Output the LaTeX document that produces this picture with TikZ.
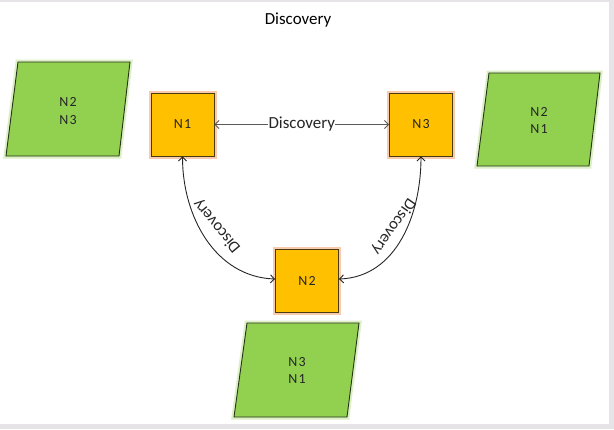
\documentclass[tikz,border=0pt]{standalone}
\usepackage{fontspec}
\setmainfont{Carlito}
\usetikzlibrary{arrows.meta}
\definecolor{boxorange}{HTML}{FFC000}
\definecolor{boxedge}{HTML}{4A3A10}
\definecolor{glowor}{HTML}{F9CBAE}
\definecolor{leafgreen}{HTML}{92D050}
\definecolor{greenedge}{HTML}{26331A}
\definecolor{glowgr}{HTML}{DDEFC4}
\definecolor{framegray}{HTML}{E6E4E6}
\definecolor{txt}{HTML}{262626}
\definecolor{linegray}{HTML}{595959}
\tikzset{
  nodebox/.style={draw=boxedge, fill=boxorange, line width=0.9bp,
    minimum width=63bp, minimum height=63bp, inner sep=0pt,
    font=\fontsize{14}{17}\selectfont\addfontfeature{LetterSpace=8}, text=txt,
    preaction={draw=glowor, line width=5bp}},
  tablebox/.style={draw=greenedge, fill=leafgreen, line width=0.9bp,
    preaction={draw=glowgr, line width=5bp}},
  tabletext/.style={align=center, inner sep=0pt,
    font=\fontsize{14}{17.5}\selectfont\addfontfeature{LetterSpace=8}, text=txt},
  link/.style={draw=linegray, line width=0.9bp,
    {Straight Barb[length=4bp,width=8bp]}-{Straight Barb[length=4bp,width=8bp]}},
  curvelink/.style={link, draw=black!85},
  midlabel/.style={fill=white, inner sep=0.3bp, font=\fontsize{17}{19}\selectfont, text=txt},
  curvelabel/.style={inner sep=0pt, font=\fontsize{16.5}{19}\selectfont, text=txt},
  titletext/.style={inner sep=0pt, font=\fontsize{17}{19}\selectfont, text=black}
}
\begin{document}
\begin{tikzpicture}[x=1bp,y=1bp]
\fill[framegray] (0,0) rectangle (614,-429);
\fill[white] (0,-1.5) rectangle (608.5,-424);
\useasboundingbox (0,0) rectangle (614,-429);

\node[titletext, anchor=base] (title) at (298,-24) {Discovery};

% green tables
\filldraw[tablebox] (18,-62) -- (130,-62) -- (119,-156) -- (6,-156) -- cycle;
\node[tabletext] (t1) at (68,-111) {N2\\N3};
\filldraw[tablebox] (489,-73) -- (600,-73) -- (589,-166) -- (477,-166) -- cycle;
\node[tabletext] (t3) at (539,-120.5) {N2\\N1};
\filldraw[tablebox] (247,-323) -- (359,-323) -- (347,-417) -- (234,-417) -- cycle;
\node[tabletext] (t2) at (297,-370.5) {N3\\N1};

% orange nodes
\node[nodebox] (n1) at (182.5,-124.5) {N1};
\node[nodebox] (n3) at (421,-124.5) {N3};
\node[nodebox] (n2) at (307,-280.5) {N2};

% connectors
\draw[link] (n1) -- node[midlabel] (m13) {Discovery} (n3);
\draw[curvelink] (n1.south) to[out=-90, in=178] ([yshift=1.5bp]n2.west);
\draw[curvelink] (n3.south) to[out=-90, in=2] ([yshift=1.5bp]n2.east);

\node[curvelabel, rotate=130] (l12) at (217,-226) {Discovery};
\node[curvelabel, rotate=235] (l32) at (393.5,-226.5) {Discovery};
\end{tikzpicture}
\end{document}
